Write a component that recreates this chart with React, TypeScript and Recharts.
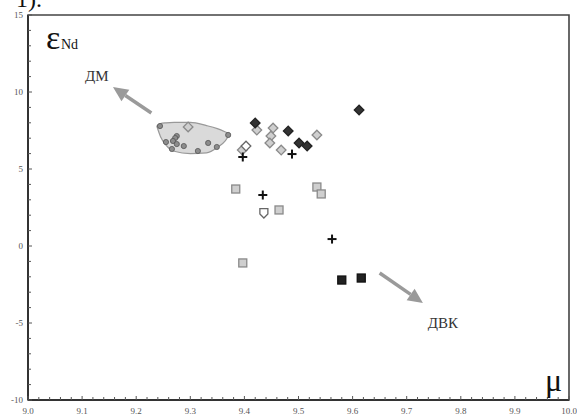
import {
  ComposedChart,
  XAxis,
  YAxis,
  Area,
  Scatter,
  ReferenceArea,
  ReferenceLine,
  ReferenceDot,
} from "recharts";

const SERIF = "'Liberation Serif', 'DejaVu Serif', serif";

// x axis: mu, y axis: eps Nd
const X_MAJOR = [9.0, 9.1, 9.2, 9.3, 9.4, 9.5, 9.6, 9.7, 9.8, 9.9, 10.0];
const X_LABELS = ["9.0", "9.1", "9.2", "9.3", "9.4", "9.5", "9.6", "9.7", "9.8", "9.9", "10.0"];
const Y_MAJOR = [-10, -5, 0, 5, 10, 15];
const Y_LABELS = ["-10", "-5", "0", "5", "10", "15"];

// minor ticks: every 0.02 on x, every 1 on y
const X_TICKS = Array.from({ length: 51 }, (_, i) => +(9 + i * 0.02).toFixed(2));
const Y_TICKS = Array.from({ length: 26 }, (_, i) => -10 + i);

// outline of the DM field (grey area), lower / upper eps at each mu
const fieldOutline = [
  { mu: 9.238, range: [7.79, 7.79] },
  { mu: 9.245, range: [7.1, 7.95] },
  { mu: 9.255, range: [6.55, 8.0] },
  { mu: 9.27, range: [6.15, 8.03] },
  { mu: 9.3, range: [6.0, 8.03] },
  { mu: 9.33, range: [6.05, 7.82] },
  { mu: 9.35, range: [6.4, 7.62] },
  { mu: 9.365, range: [6.85, 7.4] },
  { mu: 9.373, range: [7.27, 7.27] },
];

const greyCircles = [
  { mu: 9.244, eps: 7.79 },
  { mu: 9.275, eps: 7.14 },
  { mu: 9.272, eps: 7.01 },
  { mu: 9.268, eps: 6.82 },
  { mu: 9.255, eps: 6.75 },
  { mu: 9.275, eps: 6.62 },
  { mu: 9.288, eps: 6.49 },
  { mu: 9.266, eps: 6.3 },
  { mu: 9.333, eps: 6.69 },
  { mu: 9.349, eps: 6.43 },
  { mu: 9.314, eps: 6.17 },
  { mu: 9.37, eps: 7.21 },
];

const lightDiamonds = [
  { mu: 9.296, eps: 7.73 },
  { mu: 9.423, eps: 7.53 },
  { mu: 9.453, eps: 7.66 },
  { mu: 9.449, eps: 7.14 },
  { mu: 9.447, eps: 6.69 },
  { mu: 9.534, eps: 7.21 },
  { mu: 9.468, eps: 6.23 },
  { mu: 9.396, eps: 6.23 },
];

const darkDiamonds = [
  { mu: 9.42, eps: 7.99 },
  { mu: 9.481, eps: 7.47 },
  { mu: 9.501, eps: 6.69 },
  { mu: 9.516, eps: 6.49 },
  { mu: 9.612, eps: 8.83 },
];

const openDiamonds = [{ mu: 9.403, eps: 6.49 }];
const openPentagons = [{ mu: 9.436, eps: 2.14 }];

const crosses = [
  { mu: 9.397, eps: 5.78 },
  { mu: 9.488, eps: 5.97 },
  { mu: 9.434, eps: 3.31 },
  { mu: 9.562, eps: 0.45 },
];

const lightSquares = [
  { mu: 9.384, eps: 3.7 },
  { mu: 9.534, eps: 3.83 },
  { mu: 9.542, eps: 3.38 },
  { mu: 9.464, eps: 2.34 },
  { mu: 9.397, eps: -1.1 },
];

const darkSquares = [
  { mu: 9.58, eps: -2.21 },
  { mu: 9.616, eps: -2.08 },
];

// trend arrows: tail -> head
const arrowDM = [
  { x: 9.228, y: 8.64 },
  { x: 9.157, y: 10.32 },
];
const arrowDVK = [
  { x: 9.65, y: -1.75 },
  { x: 9.73, y: -3.7 },
];
const labelDM = { mu: 9.127, eps: 11.04, text: "ДМ" };
const labelDVK = { mu: 9.767, eps: -5.0, text: "ДВК" };

const isMajor = (v: number) => X_MAJOR.some((m) => Math.abs(m - v) < 1e-6);

const XTick = ({ x, y, payload }: any) => {
  const idx = X_MAJOR.findIndex((m) => Math.abs(m - payload.value) < 1e-6);
  const major = isMajor(payload.value);
  return (
    <g>
      <line x1={x} x2={x} y1={y} y2={y - (major ? 4 : 3)} stroke="#555" strokeWidth={1} />
      {idx >= 0 && (
        <text x={x} y={y + 14} textAnchor="middle" fontSize={9} fill="#555" fontFamily={SERIF}>
          {X_LABELS[idx]}
        </text>
      )}
    </g>
  );
};

const YTick = ({ x, y, payload }: any) => {
  const idx = Y_MAJOR.indexOf(payload.value);
  return (
    <g>
      <line x1={x} x2={x + (idx >= 0 ? 4 : 3)} y1={y} y2={y} stroke="#555" strokeWidth={1} />
      {idx >= 0 && (
        <text x={x - 5} y={y + 3} textAnchor="end" fontSize={9} fill="#555" fontFamily={SERIF}>
          {Y_LABELS[idx]}
        </text>
      )}
    </g>
  );
};

const CircleShape = ({ cx, cy }: any) => (
  <circle cx={cx} cy={cy} r={2.6} fill="#8c8c8c" stroke="#555" strokeWidth={0.8} />
);

const diamond = (fill: string, stroke: string) => ({ cx, cy }: any) => (
  <polygon
    points={`${cx},${cy - 4.8} ${cx + 4.8},${cy} ${cx},${cy + 4.8} ${cx - 4.8},${cy}`}
    fill={fill}
    stroke={stroke}
    strokeWidth={1.3}
  />
);

const square = (fill: string, stroke: string) => ({ cx, cy }: any) => (
  <rect x={cx - 4} y={cy - 4} width={8} height={8} fill={fill} stroke={stroke} strokeWidth={1.3} />
);

const CrossShape = ({ cx, cy }: any) => (
  <g stroke="#111" strokeWidth={2}>
    <line x1={cx - 4.5} x2={cx + 4.5} y1={cy} y2={cy} />
    <line x1={cx} x2={cx} y1={cy - 4.5} y2={cy + 4.5} />
  </g>
);

const PentagonShape = ({ cx, cy }: any) => (
  <polygon
    points={`${cx - 4},${cy - 4.5} ${cx + 4},${cy - 4.5} ${cx + 4},${cy + 1} ${cx},${cy + 5} ${cx - 4},${cy + 1}`}
    fill="#fff"
    stroke="#666"
    strokeWidth={1.3}
  />
);

const ArrowShape = (props: any) => {
  const { x1, y1, x2, y2 } = props;
  const ang = Math.atan2(y2 - y1, x2 - x1);
  const len = 15;
  const half = 7;
  const bx = x2 - len * Math.cos(ang);
  const by = y2 - len * Math.sin(ang);
  const px = -Math.sin(ang) * half;
  const py = Math.cos(ang) * half;
  return (
    <g>
      <line x1={x1} y1={y1} x2={bx} y2={by} stroke="#9a9a9a" strokeWidth={3.5} />
      <polygon
        points={`${x2},${y2} ${bx + px},${by + py} ${bx - px},${by - py}`}
        fill="#9a9a9a"
      />
    </g>
  );
};

export default function App() {
  return (
    <div
      style={{
        position: "absolute",
        left: 0,
        top: 0,
        width: 577,
        height: 414,
        background: "#fff",
        overflow: "hidden",
      }}
    >
      <ComposedChart
        width={577}
        height={414}
        data={fieldOutline}
        margin={{ top: 15, right: 8, left: 0, bottom: 0 }}
      >
        <XAxis
          dataKey="mu"
          type="number"
          domain={[9, 10]}
          ticks={X_TICKS}
          interval={0}
          tick={<XTick />}
          tickLine={false}
          tickSize={0}
          tickMargin={0}
          height={14}
          axisLine={{ stroke: "#333", strokeWidth: 2 }}
        />
        <YAxis
          type="number"
          domain={[-10, 15]}
          ticks={Y_TICKS}
          interval={0}
          tick={<YTick />}
          tickLine={false}
          tickSize={0}
          tickMargin={0}
          width={28}
          axisLine={{ stroke: "#333", strokeWidth: 2 }}
        />

        <ReferenceArea x1={9} x2={10} y1={-10} y2={15} fill="none" stroke="#444" strokeWidth={1.6} />

        <Area
          dataKey="range"
          type="monotone"
          fill="#dadada"
          fillOpacity={1}
          stroke="#999"
          strokeWidth={1.2}
          dot={false}
          activeDot={false}
          isAnimationActive={false}
        />

        <ReferenceLine segment={arrowDM} shape={ArrowShape} />
        <ReferenceLine segment={arrowDVK} shape={ArrowShape} />

        <Scatter data={greyCircles} dataKey="eps" shape={CircleShape} isAnimationActive={false} />
        <Scatter data={lightDiamonds} dataKey="eps" shape={diamond("#cfcfcf", "#8a8a8a")} isAnimationActive={false} />
        <Scatter data={darkDiamonds} dataKey="eps" shape={diamond("#333", "#222")} isAnimationActive={false} />
        <Scatter data={openDiamonds} dataKey="eps" shape={diamond("#fff", "#666")} isAnimationActive={false} />
        <Scatter data={openPentagons} dataKey="eps" shape={PentagonShape} isAnimationActive={false} />
        <Scatter data={crosses} dataKey="eps" shape={CrossShape} isAnimationActive={false} />
        <Scatter data={lightSquares} dataKey="eps" shape={square("#cfcfcf", "#8a8a8a")} isAnimationActive={false} />
        <Scatter data={darkSquares} dataKey="eps" shape={square("#222", "#111")} isAnimationActive={false} />

        <ReferenceDot
          x={labelDM.mu}
          y={labelDM.eps}
          r={0}
          fill="none"
          stroke="none"
          label={{ value: labelDM.text, position: "center", fill: "#333", fontSize: 15, fontFamily: SERIF }}
        />
        <ReferenceDot
          x={labelDVK.mu}
          y={labelDVK.eps}
          r={0}
          fill="none"
          stroke="none"
          label={{ value: labelDVK.text, position: "center", fill: "#333", fontSize: 15, fontFamily: SERIF }}
        />
      </ComposedChart>

      <svg
        width={577}
        height={414}
        style={{ position: "absolute", left: 0, top: 0, pointerEvents: "none" }}
      >
        <text x={16} y={7} fontSize={24} fill="#111" fontFamily={SERIF}>
          1).
        </text>
        <text x={46} y={49} fontSize={34} fill="#111" fontFamily={SERIF}>
          ε
        </text>
        <text x={61} y={49} fontSize={14} fill="#111" fontFamily={SERIF}>
          Nd
        </text>
        <text x={545} y={391} fontSize={32} fill="#111" fontFamily={SERIF}>
          μ
        </text>
      </svg>
    </div>
  );
}
